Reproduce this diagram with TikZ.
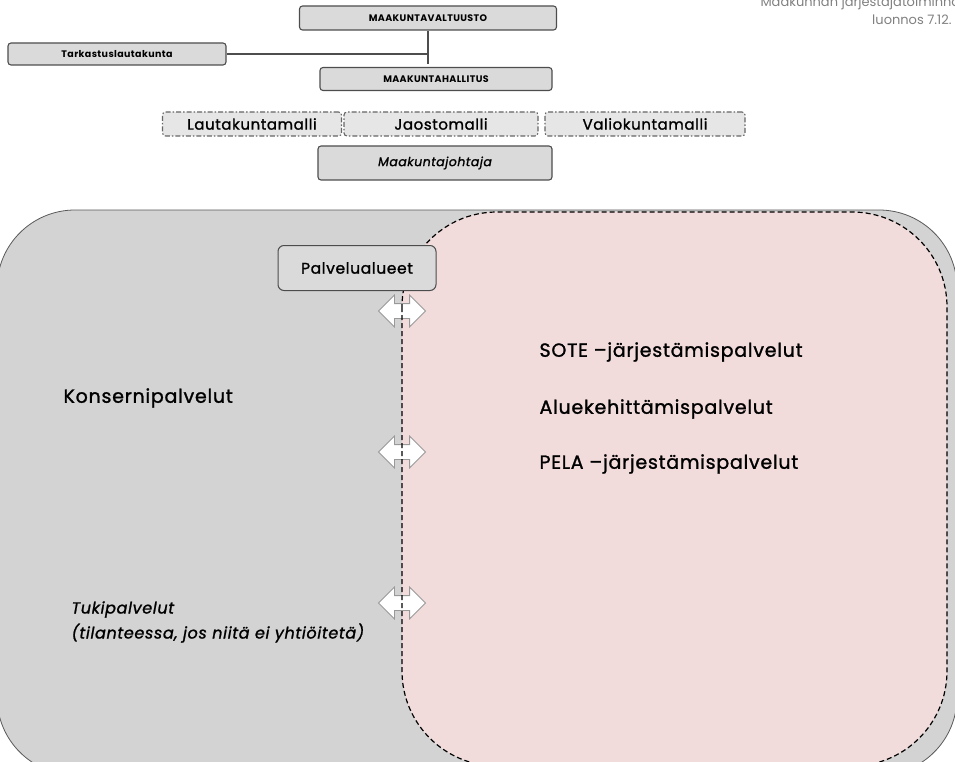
\documentclass[tikz,border=0pt]{standalone}
\usepackage{fontspec}
\setmainfont{Poppins}
\newfontfamily\widefont[LetterSpace=4]{Poppins}
\newfontfamily\medfont[LetterSpace=4, FakeBold=1.3]{Poppins}
\usetikzlibrary{shapes,arrows,positioning}

\definecolor{concerngray}{HTML}{D3D3D3}
\definecolor{boxgray}{HTML}{DADADA}
\definecolor{modelgray}{HTML}{E6E6E6}
\definecolor{orgpink}{HTML}{F2DCDB}
\definecolor{linegray}{HTML}{4D4D4D}

\begin{document}
\begin{tikzpicture}[x=1pt, y=-1pt,
    orgbox/.style={rectangle, rounded corners=3pt, draw=linegray, line width=1.1pt, fill=boxgray, inner sep=0pt, font=\widefont\bfseries\fontsize{9.5}{10}\selectfont},
    modelbox/.style={rectangle, rounded corners=3pt, draw=gray!80!black, line width=1.1pt, dash pattern=on 5pt off 2pt on 1.5pt off 2pt, fill=modelgray, inner sep=0pt, minimum height=24pt, font=\medfont\fontsize{15}{16}\selectfont},
    arealabel/.style={anchor=west, font=\medfont\fontsize{19}{20}\selectfont},
    orgline/.style={draw=linegray, line width=2.6pt},
    flowarrow/.style={double arrow, draw=gray!80, fill=white, line width=0.8pt, inner xsep=0pt, inner ysep=7pt, minimum height=47pt, double arrow head extend=8.5pt}]
    \useasboundingbox (0,0) rectangle (955,762);

    % Note in the corner
    \node[anchor=base west, text=gray, font=\fontsize{13}{14}\selectfont] (note) at (757,7) {Maakunnan järjestäjätoiminnan};
    \node[anchor=base east, text=gray, font=\fontsize{13}{14}\selectfont] (draft) at (955,25) {luonnos 7.12.};

    % Decision makers
    \node[orgbox, minimum width=257pt, minimum height=24pt] (valtuusto) at (428,18) {MAAKUNTAVALTUUSTO};
    \node[orgbox, minimum width=218pt, minimum height=22pt] (tarkastus) at (117,54) {Tarkastuslautakunta};
    \node[orgbox, minimum width=232pt, minimum height=23pt] (hallitus) at (436,79) {MAAKUNTAHALLITUS};

    % Alternative models
    \node[modelbox, minimum width=179pt] (lauta) at (252,124) {Lautakuntamalli};
    \node[modelbox, minimum width=194pt] (jaosto) at (441,124) {Jaostomalli};
    \node[modelbox, minimum width=200pt] (valio) at (645,124) {Valiokuntamalli};

    \node[orgbox, font=\medfont\itshape\fontsize{12.5}{13}\selectfont, minimum width=234pt, minimum height=34pt] (johtaja) at (435,163) {Maakuntajohtaja};

    % Connectors
    \draw[orgline] (valtuusto.south) -- ([yshift=3pt]valtuusto.south |- hallitus.north);
    \draw[orgline] (tarkastus.east) -- (tarkastus.east -| valtuusto.south);

    % Service areas
    \fill[concerngray] (-3,210) [rounded corners=78pt] rectangle (957,775);
    \draw[gray!70!black, line width=0.8pt, rounded corners=78pt] (-3,210) rectangle (957,775);
    \fill[orgpink, rounded corners=95pt] (402,212) rectangle (947,766);

    \node[arealabel] (konserni) at (60,398) {Konsernipalvelut};
    \node[arealabel] (sote) at (536,352) {SOTE –järjestämispalvelut};
    \node[arealabel] (alue) at (536,409) {Aluekehittämispalvelut};
    \node[arealabel] (pela) at (536,464) {PELA –järjestämispalvelut};
    \node[anchor=west, align=left, font=\medfont\itshape\fontsize{16}{25}\selectfont] (tuki) at (68,622) {Tukipalvelut\\(tilanteessa, jos niitä ei yhtiöitetä)};

    \node[flowarrow] (arrowA) at (402,311) {};
    \node[flowarrow] (arrowB) at (402,452) {};
    \node[flowarrow] (arrowC) at (402,603) {};

    \draw[black, line width=1.2pt, dash pattern=on 5pt off 3pt, rounded corners=95pt] (402,212) rectangle (947,766);

    \node[rectangle, rounded corners=6pt, draw=gray!60!black, line width=1pt, fill=boxgray, minimum width=158pt, minimum height=45pt, font=\medfont\fontsize{15.5}{16}\selectfont] (palvelu) at (357,268) {Palvelualueet};
\end{tikzpicture}
\end{document}
